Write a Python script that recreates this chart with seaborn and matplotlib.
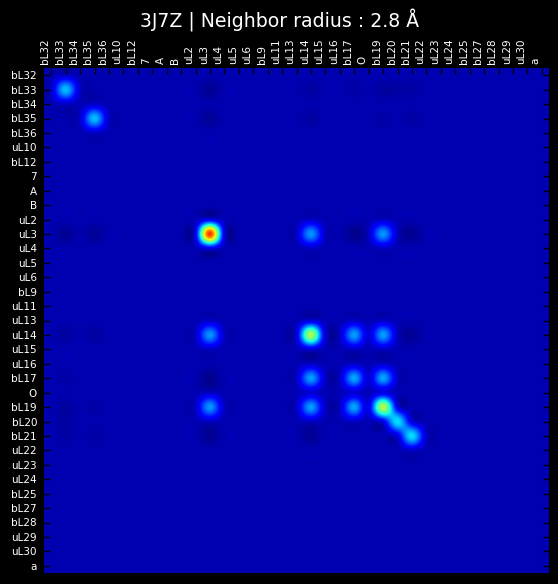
import matplotlib
matplotlib.use("Agg")
import matplotlib.pyplot as plt
import matplotlib.transforms as mtransforms
import numpy as np
import seaborn as sns

# chain labels, same order on both axes
chains = ["bL32", "bL33", "bL34", "bL35", "bL36", "uL10", "bL12", "7", "A", "B",
          "uL2", "uL3", "uL4", "uL5", "uL6", "bL9", "uL11", "uL13", "uL14",
          "uL15", "uL16", "bL17", "O", "bL19", "bL20", "bL21", "uL22", "uL23",
          "uL24", "bL25", "bL27", "bL28", "uL29", "uL30", "a"]

# diagonal values
diag_chains = ["bL33", "bL35", "uL3", "uL14", "bL17", "bL19", "bL20", "bL21"]
diag_values = [0.33, 0.33, 1.00, 0.63, 0.30, 0.64, 0.37, 0.37]

# off-diagonal pairs, symmetric
pair_a = ["uL3", "uL3", "uL14", "uL14", "bL17",
          "uL3", "uL3", "uL3", "uL3", "uL14", "uL14", "bL17", "bL21",
          "bL33", "bL33", "bL33", "bL35", "bL35", "bL21", "bL21"]
pair_b = ["uL14", "bL19", "bL17", "bL19", "bL19",
          "bL33", "bL35", "bL17", "bL21", "bL33", "bL35", "bL33", "uL14",
          "uL14", "bL19", "bL20", "uL14", "bL19", "bL33", "bL35"]
pair_values = [0.28, 0.28, 0.29, 0.29, 0.30,
               -0.035, -0.03, -0.04, -0.035, -0.02, -0.02, -0.015, -0.03,
               -0.02, -0.02, -0.015, -0.02, -0.015, -0.015, -0.015]

idx = {c: i for i, c in enumerate(chains)}
mat = np.zeros((len(chains), len(chains)))
for c, v in zip(diag_chains, diag_values):
    mat[idx[c], idx[c]] = v
for a, b, v in zip(pair_a, pair_b, pair_values):
    mat[idx[a], idx[b]] = v
    mat[idx[b], idx[a]] = v

sns.set_style("dark", rc={"axes.facecolor": "black", "figure.facecolor": "black"})
plt.rcParams["font.family"] = ["DejaVu Sans"]

fig = plt.figure(figsize=(5.58, 5.84), dpi=100)
ax = fig.add_axes([44 / 558, 1 - 573 / 584, 505 / 558, 505 / 584])
ax.imshow(mat, cmap="jet", interpolation="mitchell", aspect="auto",
          vmin=-0.045, vmax=0.93)

n = len(chains)
ax.set_xticks(range(n))
ax.set_yticks(range(n))
ax.set_xticklabels(chains, rotation=90, fontsize=7.5)
ax.set_yticklabels(chains, fontsize=7.5)
ax.xaxis.tick_top()
ax.tick_params(direction="in", length=4, width=1, color="black",
               labelcolor="white", top=True, bottom=False,
               left=True, right=True, labeltop=True, labelbottom=False)
ax.tick_params(axis="y", pad=5)
ax.tick_params(axis="x", pad=3)
# top labels sit a little left of their ticks in the original
shift = mtransforms.ScaledTranslation(-6 / 100, 0, fig.dpi_scale_trans)
for lab in ax.get_xticklabels():
    lab.set_transform(lab.get_transform() + shift)
for s in ax.spines.values():
    s.set_visible(False)
ax.grid(False)

fig.text(0.5, 1 - 28 / 584, "3J7Z | Neighbor radius : 2.8 Å", color="white",
         fontsize=13.6, ha="center", va="baseline")

fig.savefig("out.png", dpi=100, facecolor="black")
